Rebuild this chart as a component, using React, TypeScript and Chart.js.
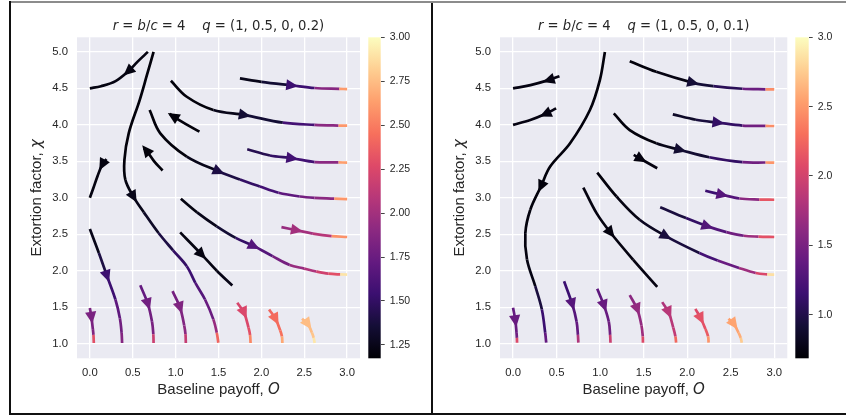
import React, { useEffect, useRef } from 'react';
import { Chart, registerables } from 'chart.js';

Chart.register(...registerables);

type Pt = [number, number, number]; // [O, chi, colour value]

// ---------- axis / tick data ----------
const O_TICKS = [0, 0.5, 1, 1.5, 2, 2.5, 3];
const CHI_TICKS = [1, 1.5, 2, 2.5, 3, 3.5, 4, 4.5, 5];
const O_RANGE = [-0.15, 3.15];
const CHI_RANGE = [0.8, 5.2];
const R_VALUE = 4;
const Q_LEFT = [1, 0.5, 0, 0.2];
const Q_RIGHT = [1, 0.5, 0, 0.1];
const CBAR_LEFT_RANGE = [1.174, 3.0];
const CBAR_RIGHT_RANGE = [0.685, 3.0];
const CBAR_LEFT_TICKS = [1.25, 1.5, 1.75, 2.0, 2.25, 2.5, 2.75, 3.0];
const CBAR_RIGHT_TICKS = [1.0, 1.5, 2.0, 2.5, 3.0];

// ---------- streamlines (listed in flow direction) ----------
const LEFT_STREAMS: Pt[][] = [
  [[0.677, 5.0, 1.22], [0.56, 4.87, 1.22], [0.445, 4.73, 1.22], [0.3, 4.6, 1.22], [0.13, 4.53, 1.22], [0, 4.5, 1.22]],
  [[0.743, 5.0, 1.2], [0.665, 4.68, 1.2], [0.581, 4.34, 1.2], [0.453, 3.884, 1.2], [0.403, 3.52, 1.2], [0.414, 3.246, 1.22],
   [0.511, 3.01, 1.25], [0.63, 2.8, 1.3], [0.801, 2.517, 1.4], [0.97, 2.28, 1.5], [1.13, 2.062, 1.55], [1.23, 1.834, 1.65],
   [1.343, 1.606, 1.75], [1.44, 1.333, 1.95], [1.48, 1.15, 2.4], [1.498, 1.014, 2.4]],
  [[0.194, 3.53, 1.22], [0.143, 3.45, 1.22], [0.09, 3.3, 1.22], [0.04, 3.13, 1.22], [0, 3.0, 1.22]],
  [[0, 2.572, 1.25], [0.105, 2.244, 1.4], [0.201, 1.925, 1.55], [0.298, 1.606, 1.7], [0.35, 1.35, 1.78], [0.37, 1.15, 1.87], [0.376, 1.01, 1.87]],
  [[0, 1.49, 1.82], [0.019, 1.355, 1.82], [0.035, 1.2, 1.85], [0.042, 1.12, 2.3], [0.046, 1.01, 2.3]],
  [[0.588, 1.8, 1.72], [0.678, 1.54, 1.78], [0.725, 1.3, 1.82], [0.74, 1.13, 2.18], [0.743, 1.01, 2.18]],
  [[0.964, 1.72, 1.8], [1.053, 1.49, 1.85], [1.1, 1.25, 1.9], [1.115, 1.13, 2.15], [1.119, 1.01, 2.15]],
  [[1.719, 1.56, 2.23], [1.8, 1.42, 2.25], [1.85, 1.22, 2.3], [1.868, 1.12, 2.54], [1.874, 1.01, 2.54]],
  [[2.09, 1.47, 2.41], [2.168, 1.333, 2.43], [2.22, 1.18, 2.45], [2.24, 1.1, 2.67], [2.245, 1.01, 2.67]],
  [[2.474, 1.342, 2.73], [2.544, 1.264, 2.75], [2.59, 1.15, 2.78], [2.61, 1.08, 2.91], [2.621, 1.01, 2.91]],
  [[1.053, 2.526, 1.22], [1.305, 2.221, 1.22], [1.48, 2.0, 1.24], [1.661, 1.797, 1.25]],
  [[1.061, 2.986, 1.22], [1.25, 2.8, 1.25], [1.479, 2.608, 1.35], [1.7, 2.45, 1.5], [1.916, 2.335, 1.65], [2.13, 2.2, 1.8],
   [2.33, 2.08, 1.95], [2.5, 2.03, 2.05], [2.64, 1.99, 2.2], [2.78, 1.96, 2.3], [2.92, 1.95, 2.9], [3.0, 1.948, 2.9]],
  [[2.234, 2.599, 1.95], [2.416, 2.554, 2.0], [2.6, 2.51, 2.09], [2.82, 2.475, 2.58], [3.0, 2.463, 2.58]],
  [[0.697, 4.203, 1.2], [0.821, 3.884, 1.2], [1.13, 3.565, 1.25], [1.506, 3.36, 1.4], [1.75, 3.25, 1.5], [1.982, 3.155, 1.58],
   [2.2, 3.07, 1.7], [2.447, 3.018, 1.8], [2.62, 3.0, 1.9], [2.85, 2.99, 2.6], [3.0, 2.982, 2.6]],
  [[1.835, 3.665, 1.44], [2.1, 3.58, 1.5], [2.362, 3.542, 1.57], [2.62, 3.49, 1.9], [2.9, 3.485, 2.63], [3.0, 3.483, 2.63]],
  [[0.945, 4.604, 1.2], [1.13, 4.385, 1.2], [1.44, 4.203, 1.25], [1.808, 4.134, 1.35], [2.25, 4.03, 1.58], [2.62, 4.0, 1.9], [2.9, 3.99, 2.6], [3.0, 3.989, 2.6]],
  [[1.75, 4.636, 1.25], [2.0, 4.59, 1.35], [2.36, 4.54, 1.55], [2.62, 4.505, 1.88], [2.91, 4.493, 2.62], [3.0, 4.49, 2.62]],
  [[1.278, 3.907, 1.2], [1.12, 4.01, 1.2], [0.968, 4.12, 1.2], [0.93, 4.15, 1.2]],
  [[0.848, 3.374, 1.2], [0.75, 3.5, 1.2], [0.654, 3.656, 1.2], [0.627, 3.68, 1.2]],
];
const LEFT_ARROWS = [2, 6, 1, 2, 1, 1, 1, 1, 1, 1, 1, 4, 1, 3, 2, 3, 2, 2, 2];

const RIGHT_STREAMS: Pt[][] = [
  [[0.533, 4.667, 0.75], [0.407, 4.613, 0.75], [0.2, 4.545, 0.75], [0, 4.5, 0.75]],
  [[0.495, 4.226, 0.75], [0.369, 4.148, 0.75], [0.198, 4.066, 0.75], [0, 4.0, 0.75]],
  [[1.055, 5.0, 0.72], [0.997, 4.613, 0.72], [0.883, 4.203, 0.72], [0.655, 3.747, 0.72], [0.426, 3.428, 0.72], [0.32, 3.155, 0.72],
   [0.198, 2.836, 0.73], [0.141, 2.517, 0.74], [0.16, 2.153, 0.76], [0.255, 1.788, 0.95], [0.331, 1.469, 1.15], [0.369, 1.15, 1.38], [0.381, 1.014, 1.38]],
  [[0, 1.492, 1.38], [0.027, 1.31, 1.4], [0.04, 1.15, 1.45], [0.044, 1.08, 2.07], [0.046, 1.014, 2.07]],
  [[0.586, 1.856, 1.15], [0.681, 1.538, 1.3], [0.73, 1.3, 1.38], [0.745, 1.12, 1.8], [0.75, 1.014, 1.8]],
  [[0.967, 1.752, 1.35], [1.047, 1.515, 1.4], [1.1, 1.3, 1.45], [1.115, 1.12, 1.96], [1.119, 1.014, 1.96]],
  [[1.34, 1.665, 1.6], [1.428, 1.469, 1.65], [1.475, 1.25, 1.7], [1.49, 1.1, 2.07], [1.492, 1.014, 2.07]],
  [[1.713, 1.57, 1.8], [1.789, 1.424, 1.85], [1.84, 1.22, 1.9], [1.865, 1.1, 2.26], [1.873, 1.014, 2.26]],
  [[2.094, 1.478, 2.07], [2.159, 1.342, 2.12], [2.21, 1.2, 2.18], [2.24, 1.1, 2.49], [2.246, 1.014, 2.49]],
  [[2.475, 1.342, 2.54], [2.539, 1.264, 2.56], [2.59, 1.15, 2.6], [2.615, 1.08, 2.75], [2.627, 1.014, 2.75]],
  [[0.807, 3.141, 0.74], [0.959, 2.79, 0.74], [1.123, 2.517, 0.74], [1.378, 2.153, 0.75], [1.656, 1.779, 0.75]],
  [[0.967, 3.346, 0.72], [1.188, 3.018, 0.75], [1.454, 2.699, 0.82], [1.759, 2.472, 0.95], [2.14, 2.244, 1.2], [2.35, 2.14, 1.4],
   [2.596, 2.039, 1.7], [2.787, 1.97, 2.05], [2.92, 1.95, 2.85], [3.0, 1.948, 2.85]],
  [[1.69, 2.872, 0.95], [1.987, 2.722, 1.1], [2.235, 2.608, 1.28], [2.45, 2.53, 1.45], [2.65, 2.48, 1.7], [2.82, 2.468, 2.12], [3.0, 2.463, 2.12]],
  [[2.208, 3.096, 1.15], [2.406, 3.041, 1.3], [2.6, 2.99, 1.6], [2.83, 2.976, 2.15], [3.0, 2.973, 2.15]],
  [[1.157, 4.157, 0.72], [1.34, 3.929, 0.72], [1.645, 3.747, 0.78], [1.923, 3.656, 0.9], [2.254, 3.556, 1.1], [2.634, 3.488, 1.45], [2.9, 3.484, 2.49], [3.0, 3.483, 2.49]],
  [[1.835, 4.144, 0.85], [2.1, 4.07, 0.95], [2.36, 4.03, 1.1], [2.634, 3.99, 1.45], [2.9, 3.985, 2.45], [3.0, 3.984, 2.45]],
  [[1.34, 4.872, 0.72], [1.645, 4.727, 0.75], [2.071, 4.576, 0.92], [2.3, 4.53, 1.05], [2.634, 4.495, 1.42], [2.9, 4.487, 2.45], [3.0, 4.485, 2.45]],
  [[1.386, 3.588, 0.74], [1.473, 3.529, 0.74], [1.656, 3.405, 0.74]],
];
const RIGHT_ARROWS = [1, 1, 5, 1, 1, 1, 1, 1, 1, 1, 2, 3, 2, 1, 3, 2, 2, 1];

// ---------- colormap ----------
const MAGMA = ['#000004', '#140e36', '#3b0f70', '#641a80', '#8c2981', '#b73779', '#de4968', '#f7705c', '#fe9f6d', '#fecf92', '#fcfdbf'];

function hexRgb(h: string) {
  return [parseInt(h.slice(1, 3), 16), parseInt(h.slice(3, 5), 16), parseInt(h.slice(5, 7), 16)];
}
function magma(t: number): string {
  const c = Math.max(0, Math.min(1, t)) * (MAGMA.length - 1);
  const i = Math.min(Math.floor(c), MAGMA.length - 2);
  const f = c - i;
  const a = hexRgb(MAGMA[i]);
  const b = hexRgb(MAGMA[i + 1]);
  const m = a.map((v, k) => Math.round(v + (b[k] - v) * f));
  return `rgb(${m[0]},${m[1]},${m[2]})`;
}

const TEXT = '#262626';
const SANS = "'Liberation Sans', Arial, sans-serif";
const MATH = "'DejaVu Sans', sans-serif";

type Seg = { t: string; f: string };
function drawRich(ctx: CanvasRenderingContext2D, segs: Seg[], x: number, y: number, rot: number) {
  ctx.save();
  ctx.translate(x, y);
  ctx.rotate(rot);
  ctx.fillStyle = TEXT;
  ctx.textBaseline = 'middle';
  ctx.textAlign = 'left';
  const w = segs.map((s) => {
    ctx.font = s.f;
    return ctx.measureText(s.t).width;
  });
  let cx = -w.reduce((a, b) => a + b, 0) / 2;
  segs.forEach((s, i) => {
    ctx.font = s.f;
    ctx.fillText(s.t, cx, 0);
    cx += w[i];
  });
  ctx.restore();
}

function mainConfig(streams: Pt[][], arrows: number[], crange: number[], q: number[], padRight: number): any {
  const [lo, hi] = crange;
  const col = (v: number) => magma((v - lo) / (hi - lo));
  const datasets = streams.map((s) => ({
    data: s.map((p) => ({ x: p[0], y: p[1] })),
    showLine: true,
    pointRadius: 0,
    pointHoverRadius: 0,
    borderWidth: 2.7,
    tension: 0.35,
    borderColor: col(s[0][2]),
    borderCapStyle: 'butt',
    segment: { borderColor: (c: any) => col(s[c.p0DataIndex][2]) },
  }));
  const fs = 13.2;
  const up = `${fs}px ${MATH}`;
  const it = `italic ${fs}px ${MATH}`;
  const titleSegs: Seg[] = [
    { t: 'r', f: it }, { t: ' = ', f: up }, { t: 'b', f: it }, { t: '/', f: up }, { t: 'c', f: it },
    { t: ` = ${R_VALUE}    `, f: up }, { t: 'q', f: it }, { t: ` = (${q.join(', ')})`, f: up },
  ];
  const lab = `15px ${SANS}`;
  const labIt = `italic 15px ${MATH}`;
  const xSegs: Seg[] = [{ t: 'Baseline payoff, ', f: lab }, { t: 'O', f: labIt }];
  const ySegs: Seg[] = [{ t: 'Extortion factor, ', f: lab }, { t: 'χ', f: labIt }];

  const plugin = {
    id: 'decor',
    beforeDraw(chart: any) {
      const { ctx, chartArea: a } = chart;
      ctx.save();
      ctx.fillStyle = '#EAEAF2';
      ctx.fillRect(a.left, a.top, a.right - a.left, a.bottom - a.top);
      ctx.restore();
    },
    afterDatasetsDraw(chart: any) {
      const { ctx, chartArea: a } = chart;
      ctx.save();
      ctx.beginPath();
      ctx.rect(a.left, a.top, a.right - a.left, a.bottom - a.top);
      ctx.clip();
      streams.forEach((s, si) => {
        const k = arrows[si];
        const pts = chart.getDatasetMeta(si).data;
        const p = pts[k];
        const pa = pts[Math.max(0, k - 1)];
        const pb = pts[Math.min(pts.length - 1, k + 1)];
        let dx = pb.x - pa.x;
        let dy = pb.y - pa.y;
        const L = Math.hypot(dx, dy) || 1;
        dx /= L;
        dy /= L;
        const len = 12;
        const hw = 5.6;
        const tipX = p.x + dx * len * 0.5;
        const tipY = p.y + dy * len * 0.5;
        const bx = p.x - dx * len * 0.5;
        const by = p.y - dy * len * 0.5;
        ctx.fillStyle = col(s[k][2]);
        ctx.beginPath();
        ctx.moveTo(tipX, tipY);
        ctx.lineTo(bx - dy * hw, by + dx * hw);
        ctx.lineTo(bx + dy * hw, by - dx * hw);
        ctx.closePath();
        ctx.fill();
      });
      ctx.restore();
    },
    afterDraw(chart: any) {
      const { ctx, chartArea: a } = chart;
      const cx = (a.left + a.right) / 2;
      const cy = (a.top + a.bottom) / 2;
      drawRich(ctx, titleSegs, cx, 23.5, 0);
      drawRich(ctx, xSegs, cx, 387, 0);
      drawRich(ctx, ySegs, 26, cy, -Math.PI / 2);
    },
  };

  return {
    type: 'scatter',
    data: { datasets },
    options: {
      animation: false,
      responsive: false,
      events: [],
      layout: { padding: { left: 0, top: 34.3, right: padRight, bottom: 0 } },
      plugins: { legend: { display: false }, tooltip: { enabled: false }, title: { display: false } },
      scales: {
        x: {
          type: 'linear',
          min: O_RANGE[0],
          max: O_RANGE[1],
          afterBuildTicks: (s: any) => { s.ticks = O_TICKS.map((v) => ({ value: v })); },
          afterFit: (s: any) => { s.height = 54.7; },
          grid: { color: '#ffffff', lineWidth: 1.3, drawTicks: false },
          border: { display: false },
          ticks: { padding: 7.5, color: TEXT, font: { size: 11.3, family: SANS }, maxRotation: 0, autoSkip: false,
            callback: (v: any) => Number(v).toFixed(1) },
        },
        y: {
          type: 'linear',
          min: CHI_RANGE[0],
          max: CHI_RANGE[1],
          afterBuildTicks: (s: any) => { s.ticks = CHI_TICKS.map((v) => ({ value: v })); },
          afterFit: (s: any) => { s.width = 66; },
          grid: { color: '#ffffff', lineWidth: 1.3, drawTicks: false },
          border: { display: false },
          ticks: { padding: 9, color: TEXT, font: { size: 11.3, family: SANS }, autoSkip: false,
            callback: (v: any) => Number(v).toFixed(1) },
        },
      },
    },
    plugins: [plugin],
  };
}

function cbarConfig(crange: number[], ticks: number[], decimals: number, yWidth: number): any {
  return {
    type: 'scatter',
    data: { datasets: [] },
    options: {
      animation: false,
      responsive: false,
      events: [],
      layout: { padding: { left: 2.3, top: 34.3, right: 0, bottom: 54.7 } },
      plugins: { legend: { display: false }, tooltip: { enabled: false } },
      scales: {
        x: { display: false, min: 0, max: 1 },
        y: {
          position: 'right',
          min: crange[0],
          max: crange[1],
          afterBuildTicks: (s: any) => { s.ticks = ticks.map((v) => ({ value: v })); },
          afterFit: (s: any) => { s.width = yWidth; },
          grid: { drawOnChartArea: false, drawTicks: true, tickLength: 4, tickColor: '#444444', lineWidth: 1 },
          border: { display: false },
          ticks: { padding: 5, color: TEXT, font: { size: 10.5, family: SANS }, autoSkip: false,
            callback: (v: any) => Number(v).toFixed(decimals) },
        },
      },
    },
    plugins: [{
      id: 'grad',
      beforeDraw(chart: any) {
        const { ctx, chartArea: a } = chart;
        const g = ctx.createLinearGradient(0, a.bottom, 0, a.top);
        MAGMA.forEach((c, i) => g.addColorStop(i / (MAGMA.length - 1), c));
        ctx.save();
        ctx.fillStyle = g;
        ctx.fillRect(a.left, a.top, a.right - a.left, a.bottom - a.top);
        ctx.restore();
      },
    }],
  };
}

export default function App() {
  const m1 = useRef<HTMLCanvasElement>(null);
  const c1 = useRef<HTMLCanvasElement>(null);
  const m2 = useRef<HTMLCanvasElement>(null);
  const c2 = useRef<HTMLCanvasElement>(null);

  useEffect(() => {
    const charts = [
      new Chart(m1.current as HTMLCanvasElement, mainConfig(LEFT_STREAMS, LEFT_ARROWS, CBAR_LEFT_RANGE, Q_LEFT, 8)),
      new Chart(c1.current as HTMLCanvasElement, cbarConfig(CBAR_LEFT_RANGE, CBAR_LEFT_TICKS, 2, 49.3)),
      new Chart(m2.current as HTMLCanvasElement, mainConfig(RIGHT_STREAMS, RIGHT_ARROWS, CBAR_RIGHT_RANGE, Q_RIGHT, 4.7)),
      new Chart(c2.current as HTMLCanvasElement, cbarConfig(CBAR_RIGHT_RANGE, CBAR_RIGHT_TICKS, 1, 37.3)),
    ];
    return () => charts.forEach((c) => c.destroy());
  }, []);

  const abs = (l: number, t: number): React.CSSProperties => ({ position: 'absolute', left: l, top: t, display: 'block' });

  return (
    <div style={{ position: 'fixed', left: 0, top: 0, width: 846, height: 416, background: '#ffffff', overflow: 'hidden' }}>
      <div style={{ position: 'absolute', left: 9, top: 1, right: 0, height: 2, background: '#8c8c8c' }} />
      <div style={{ position: 'absolute', left: 9, top: 1, width: 2, height: 414, background: '#111111' }} />
      <div style={{ position: 'absolute', left: 431, top: 3, width: 1.5, height: 411, background: '#111111' }} />
      <div style={{ position: 'absolute', left: 9, top: 413, right: 0, height: 2, background: '#111111' }} />
      <canvas ref={m1} width={357} height={410} style={abs(11, 3)} />
      <canvas ref={c1} width={64} height={410} style={abs(366, 3)} />
      <canvas ref={m2} width={358} height={410} style={abs(434, 3)} />
      <canvas ref={c2} width={53} height={410} style={abs(793, 3)} />
    </div>
  );
}
